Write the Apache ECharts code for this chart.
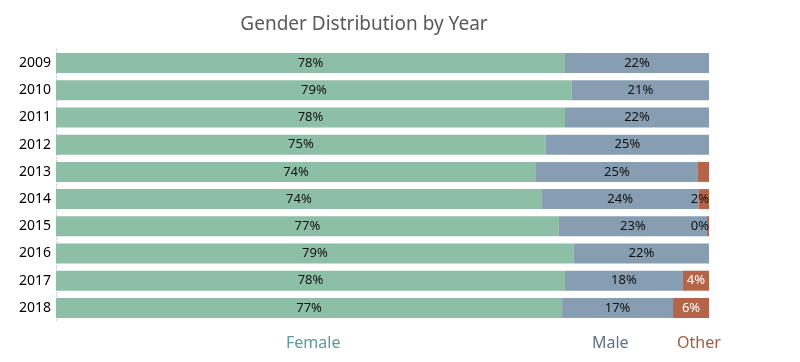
<!DOCTYPE html>
<html><head><meta charset="utf-8">
<script src="https://cdn.jsdelivr.net/npm/echarts@6/dist/echarts.min.js"></script>
<style>html,body{margin:0;padding:0;background:#fff}#c{width:800px;height:362px}</style>
</head><body><div id="c"></div>
<script>
var years = ['2009','2010','2011','2012','2013','2014','2015','2016','2017','2018'];
var female = [77.95, 79.0, 77.95, 75.0, 73.5, 74.4, 77.0, 79.3, 77.95, 77.5];
var male   = [22.05, 21.0, 22.05, 25.0, 24.8, 24.0, 22.7, 20.7, 18.05, 17.0];
var other  = [0, 0, 0, 0, 1.7, 1.6, 0.3, 0, 4.0, 5.5];
var femaleLabels = ['78%','79%','78%','75%','74%','74%','77%','79%','78%','77%'];
var maleLabels   = ['22%','21%','22%','25%','25%','24%','23%','22%','18%','17%'];
var otherLabels  = ['','','','','','2%','0%','','4%','6%'];

var FONT = 'Noto Sans';
var otherData = other.map(function (v, i) {
  var big = v >= 3;
  return {
    value: v,
    label: {
      show: otherLabels[i] !== '',
      position: big ? 'inside' : 'insideRight',
      distance: 0,
      color: big ? '#ffffff' : '#111111',
      formatter: function () { return otherLabels[i]; }
    }
  };
});

var chart = echarts.init(document.getElementById('c'), null, { renderer: 'canvas' });
var baseLabel = { show: true, position: 'inside', color: '#111', fontFamily: FONT, fontSize: 13 };
function legendFor(name, left, color) {
  return { data: [name], left: left, top: 335, padding: 0, icon: 'none', itemWidth: 0, itemGap: 0,
    selectedMode: false, textStyle: { color: color, fontFamily: FONT, fontSize: 16, padding: 0 } };
}
chart.setOption({
  animation: false,
  title: {
    text: 'Gender Distribution by Year', left: 359, top: 10, textAlign: 'center',
    textStyle: { fontFamily: FONT, fontWeight: 'normal', fontSize: 19, color: '#595959' }
  },
  grid: { left: 56, right: 91, top: 49.5, height: 272, containLabel: false },
  xAxis: { type: 'value', min: 0, max: 100, show: false },
  yAxis: {
    type: 'category', inverse: true, data: years,
    axisLine: { show: true, lineStyle: { color: '#c8c8c8', type: [1, 2], width: 1 } },
    axisTick: { show: false },
    axisLabel: { color: '#000', fontFamily: FONT, fontSize: 14, margin: 5 }
  },
  legend: [
    legendFor('Female', 281, '#5a9c95'),
    legendFor('Male', 587, '#5d7289'),
    legendFor('Other', 672, '#a55b40')
  ],
  series: [
    { name: 'Female', type: 'bar', stack: 'g', barWidth: 20, data: female,
      itemStyle: { color: '#8dbea6' },
      label: Object.assign({}, baseLabel, { formatter: function (p) { return femaleLabels[p.dataIndex]; } }) },
    { name: 'Male', type: 'bar', stack: 'g', barWidth: 20, data: male,
      itemStyle: { color: '#869db2' },
      label: Object.assign({}, baseLabel, { formatter: function (p) { return maleLabels[p.dataIndex]; } }) },
    { name: 'Other', type: 'bar', stack: 'g', barWidth: 20, data: otherData,
      itemStyle: { color: '#b5644a' },
      label: Object.assign({}, baseLabel) }
  ]
});
</script></body></html>
